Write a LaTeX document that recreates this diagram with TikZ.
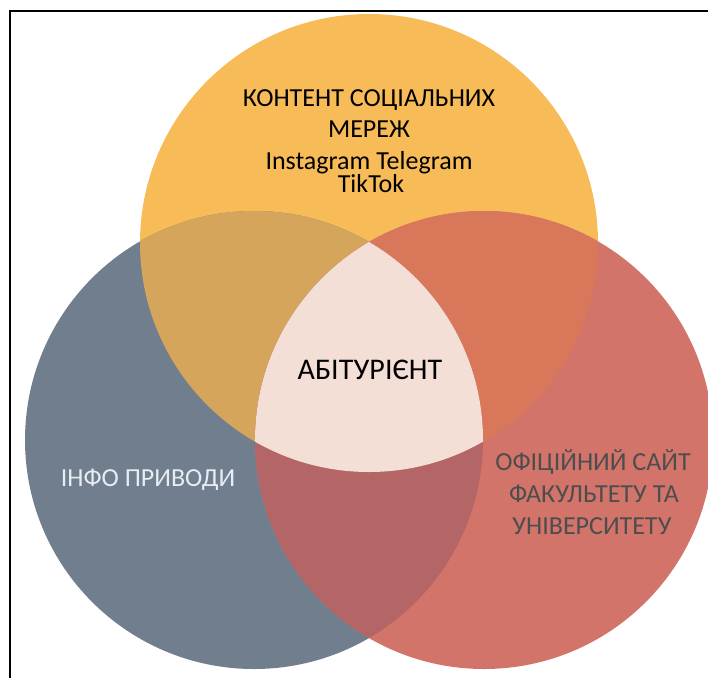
\documentclass[tikz,border=0pt]{standalone}
\usepackage{fontspec}
\setmainfont{Carlito}
\definecolor{corg}{HTML}{F7BB58}
\definecolor{cgry}{HTML}{717E8E}
\definecolor{cred}{HTML}{D3746B}
\definecolor{cog}{HTML}{D4A55A}
\definecolor{cor}{HTML}{D9775A}
\definecolor{cgr}{HTML}{B46667}
\definecolor{cmid}{HTML}{F3DFD6}
\definecolor{cinfo}{HTML}{E6EDF4}
\definecolor{csite}{HTML}{4D4D4D}
\begin{document}
\begin{tikzpicture}[x=1pt,y=-1pt,
  big/.style={font=\fontsize{26}{30}\selectfont, anchor=base, inner sep=0pt},
  small/.style={font=\fontsize{26}{26}\selectfont, anchor=base, inner sep=0pt}]
\useasboundingbox (0,0) rectangle (708,678);
\coordinate (co) at (369,243);
\coordinate (cg) at (254,440);
\coordinate (cr) at (484,440);
\def\R{229pt}
% circles
\fill[corg] (co) circle[radius=\R];
\fill[cgry] (cg) circle[radius=\R];
\fill[cred] (cr) circle[radius=\R];
% pairwise overlaps
\begin{scope}\clip (co) circle[radius=\R]; \fill[cog] (cg) circle[radius=\R];\end{scope}
\begin{scope}\clip (co) circle[radius=\R]; \fill[cor] (cr) circle[radius=\R];\end{scope}
\begin{scope}\clip (cg) circle[radius=\R]; \fill[cgr] (cr) circle[radius=\R];\end{scope}
\begin{scope}\clip (co) circle[radius=\R]; \clip (cg) circle[radius=\R]; \fill[cmid] (cr) circle[radius=\R];\end{scope}
% frame
\coordinate (fbl) at (10,678);
\coordinate (ftl) at (10,11);
\coordinate (ftr) at (708,11);
\draw[line width=2pt] (fbl) -- (ftl) -- (ftr);
% texts
\node[big] (soc1) at (369,106) {КОНТЕНТ СОЦІАЛЬНИХ};
\node[big] (soc2) at (369,137) {МЕРЕЖ};
\node[small] (ig1) at (369,169) {Instagram Telegram};
\node[small] (ig2) at (371,192) {TikTok};
\node[big, font=\fontsize{30}{34}\selectfont] (abit) at (370,379) {АБІТУРІЄНТ};
\node[big, text=cinfo] (info) at (148,486) {ІНФО ПРИВОДИ};
\node[big, text=csite] (site1) at (593,470) {ОФІЦІЙНИЙ САЙТ};
\node[big, text=csite] (site2) at (594,502) {ФАКУЛЬТЕТУ ТА};
\node[big, text=csite] (site3) at (592,534) {УНІВЕРСИТЕТУ};
\end{tikzpicture}
\end{document}
